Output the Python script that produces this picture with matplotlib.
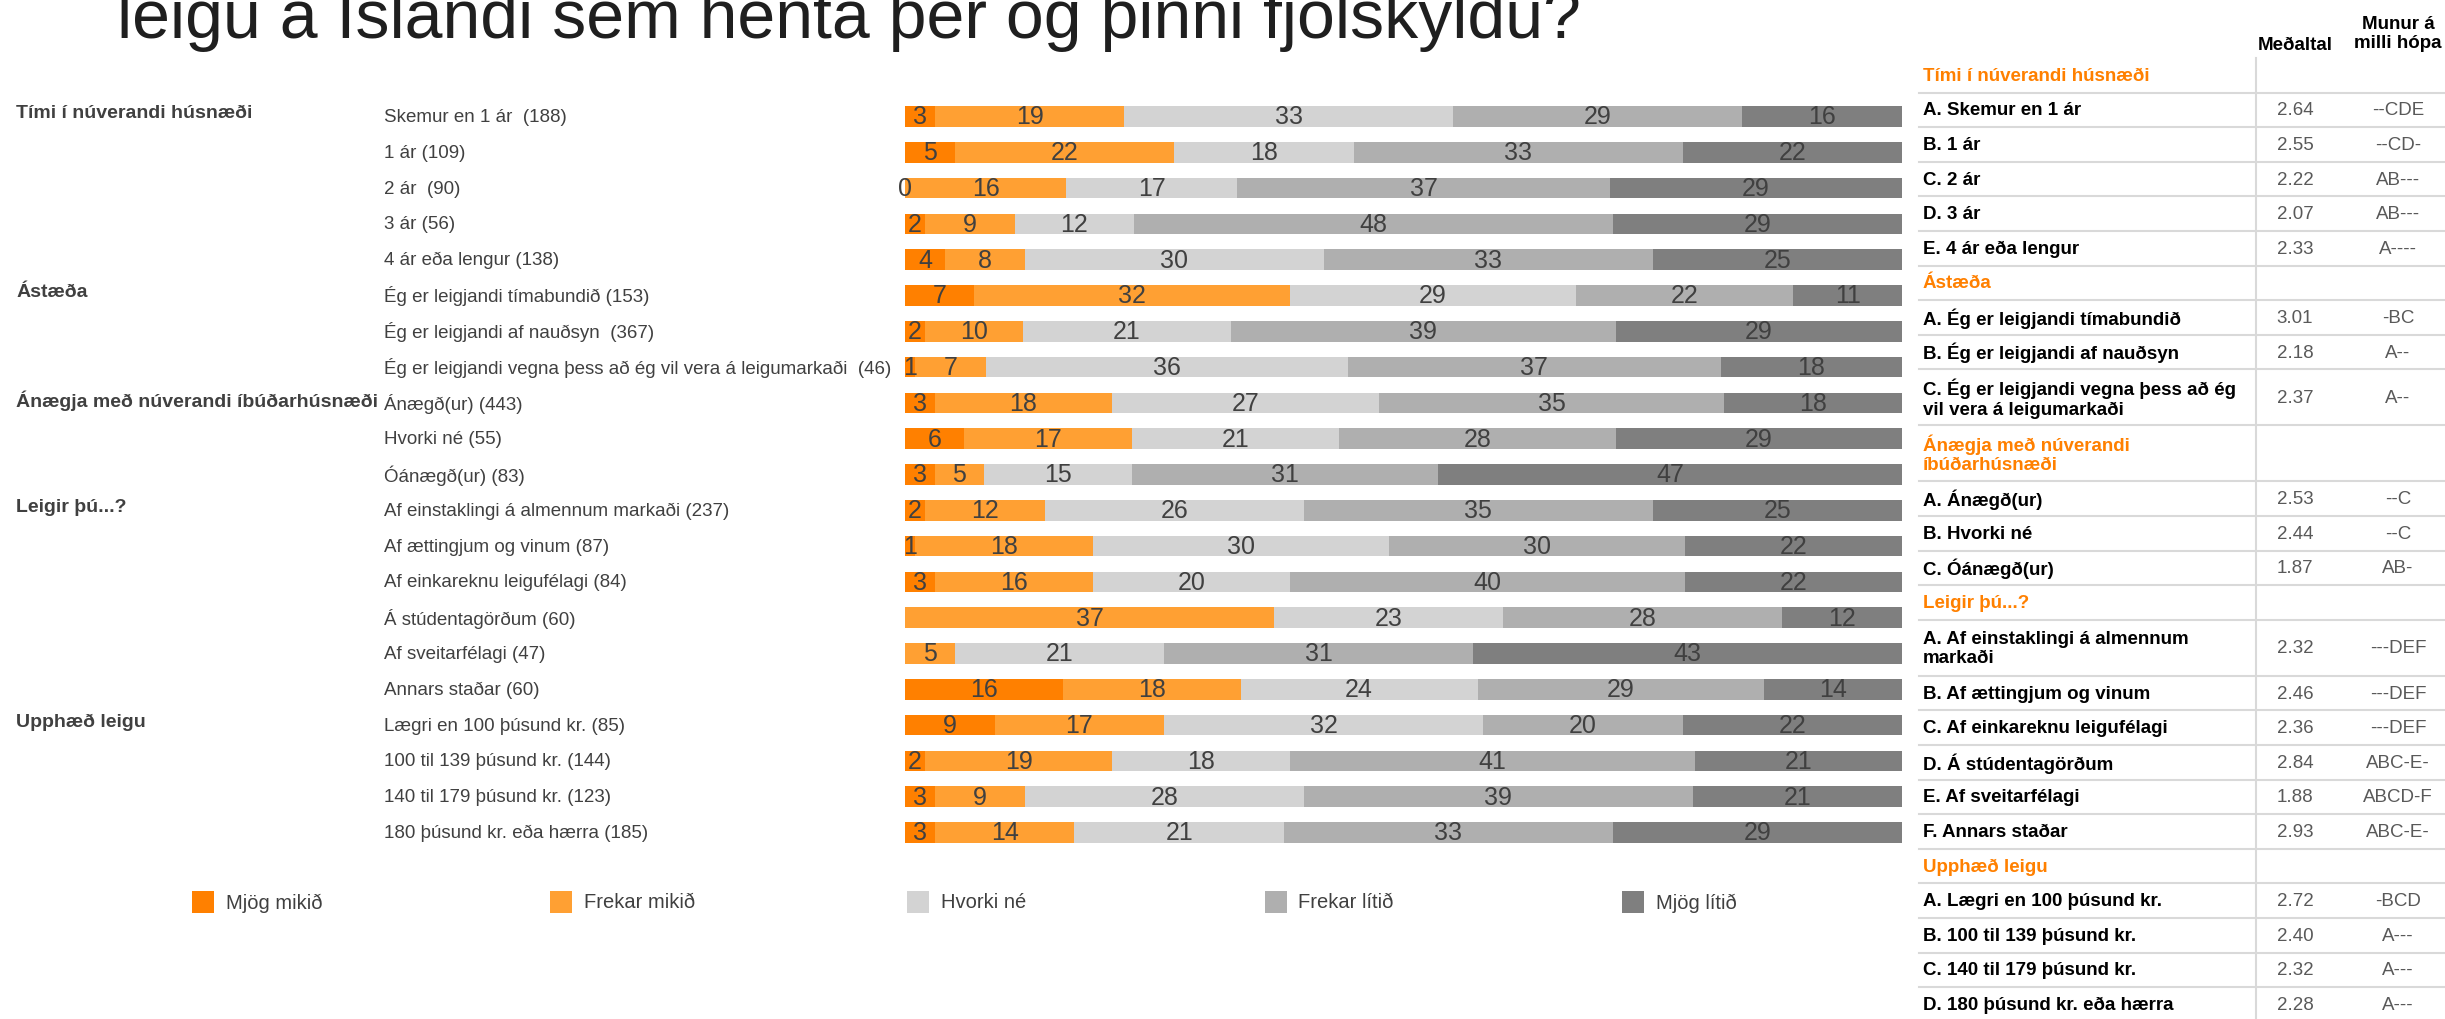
import matplotlib
matplotlib.use("Agg")
import matplotlib.pyplot as plt
from matplotlib import font_manager
from matplotlib.patches import Rectangle
from matplotlib.transforms import blended_transform_factory
import numpy as np

W, H = 2445, 1020

_installed = {f.name for f in font_manager.fontManager.ttflist}


def _pick(*names):
    for n in names:
        if n in _installed:
            return n
    return "DejaVu Sans"


NARROW = _pick("Liberation Sans Narrow", "Arial Narrow", "Liberation Sans")
SANS = _pick("Liberation Sans", "Arial", "DejaVu Sans")

# ---- data -------------------------------------------------------------
title = "leigu á Íslandi sem henta þér og þinni fjölskyldu?"

series = ["Mjög mikið", "Frekar mikið", "Hvorki né", "Frekar lítið", "Mjög lítið"]
colors = ["#FF8000", "#FFA033", "#D3D3D3", "#AFAFAF", "#7F7F7F"]

groups = ["Tími í núverandi húsnæði", "Ástæða", "Ánægja með núverandi íbúðarhúsnæði",
          "Leigir þú...?", "Upphæð leigu"]
group_sizes = [5, 3, 3, 6, 4]

row_labels = [
    "Skemur en 1 ár  (188)", "1 ár (109)", "2 ár  (90)", "3 ár (56)", "4 ár eða lengur (138)",
    "Ég er leigjandi tímabundið (153)", "Ég er leigjandi af nauðsyn  (367)",
    "Ég er leigjandi vegna þess að ég vil vera á leigumarkaði  (46)",
    "Ánægð(ur) (443)", "Hvorki né (55)", "Óánægð(ur) (83)",
    "Af einstaklingi á almennum markaði (237)", "Af ættingjum og vinum (87)",
    "Af einkareknu leigufélagi (84)", "Á stúdentagörðum (60)", "Af sveitarfélagi (47)",
    "Annars staðar (60)",
    "Lægri en 100 þúsund kr. (85)", "100 til 139 þúsund kr. (144)",
    "140 til 179 þúsund kr. (123)", "180 þúsund kr. eða hærra (185)",
]

mjog_mikid = [3, 5, 0, 2, 4, 7, 2, 1, 3, 6, 3, 2, 1, 3, np.nan, np.nan, 16, 9, 2, 3, 3]
frekar_mikid = [19, 22, 16, 9, 8, 32, 10, 7, 18, 17, 5, 12, 18, 16, 37, 5, 18, 17, 19, 9, 14]
hvorki_ne = [33, 18, 17, 12, 30, 29, 21, 36, 27, 21, 15, 26, 30, 20, 23, 21, 24, 32, 18, 28, 21]
frekar_litid = [29, 33, 37, 48, 33, 22, 39, 37, 35, 28, 31, 35, 30, 40, 28, 31, 29, 20, 41, 39, 33]
mjog_litid = [16, 22, 29, 29, 25, 11, 29, 18, 18, 29, 47, 25, 22, 22, 12, 43, 14, 22, 21, 21, 29]

tbl_sections = ["Tími í núverandi húsnæði", "Ástæða", "Ánægja með núverandi\níbúðarhúsnæði",
                "Leigir þú...?", "Upphæð leigu"]
tbl_items = [
    "A. Skemur en 1 ár", "B. 1 ár", "C. 2 ár", "D. 3 ár", "E. 4 ár eða lengur",
    "A. Ég er leigjandi tímabundið", "B. Ég er leigjandi af nauðsyn",
    "C. Ég er leigjandi vegna þess að ég\nvil vera á leigumarkaði",
    "A. Ánægð(ur)", "B. Hvorki né", "C. Óánægð(ur)",
    "A. Af einstaklingi á almennum\nmarkaði", "B. Af ættingjum og vinum",
    "C. Af einkareknu leigufélagi", "D. Á stúdentagörðum", "E. Af sveitarfélagi",
    "F. Annars staðar",
    "A. Lægri en 100 þúsund kr.", "B. 100 til 139 þúsund kr.", "C. 140 til 179 þúsund kr.",
    "D. 180 þúsund kr. eða hærra",
]
tbl_means = [2.64, 2.55, 2.22, 2.07, 2.33, 3.01, 2.18, 2.37, 2.53, 2.44, 1.87,
             2.32, 2.46, 2.36, 2.84, 1.88, 2.93, 2.72, 2.40, 2.32, 2.28]
tbl_diffs = ["--CDE", "--CD-", "AB---", "AB---", "A----", "-BC", "A--", "A--",
             "--C", "--C", "AB-", "---DEF", "---DEF", "---DEF", "ABC-E-", "ABCD-F", "ABC-E-",
             "-BCD", "A---", "A---", "A---"]

# ---- figure -----------------------------------------------------------
fig = plt.figure(figsize=(W / 100, H / 100), dpi=100)
fig.patch.set_facecolor("white")

TXT = "#404040"
ROW0, STEP = 117.5, 35.8
nrows = len(row_labels)
top = ROW0 - STEP / 2
bot = ROW0 + STEP * (nrows - 0.5)
x0, x1 = 905, 1902
ax = fig.add_axes([x0 / W, 1 - bot / H, (x1 - x0) / W, (bot - top) / H])

vals = np.array([mjog_mikid, frekar_mikid, hvorki_ne, frekar_litid, mjog_litid], dtype=float).T
filled = np.nan_to_num(vals)
pct = filled / filled.sum(axis=1, keepdims=True) * 100
y = np.arange(nrows)
left = np.zeros(nrows)
for k in range(len(series)):
    ax.barh(y, pct[:, k], left=left, height=0.57, color=colors[k], edgecolor="none")
    for i in range(nrows):
        if not np.isnan(vals[i, k]):
            ax.text(left[i] + pct[i, k] / 2, i, f"{vals[i, k]:g}", ha="center", va="center",
                    fontsize=18, family=NARROW, color=TXT)
    left += pct[:, k]
ax.set_xlim(0, 100)
ax.set_ylim(nrows - 0.5, -0.5)
ax.axis("off")

# row + group labels, tied to the bar rows
tr = blended_transform_factory(fig.transFigure, ax.transData)
for i, lab in enumerate(row_labels):
    ax.text(384 / W, i, lab, transform=tr, ha="left", va="center", fontsize=13.5,
            family=NARROW, color=TXT, clip_on=False)
start = 0
for g, n in zip(groups, group_sizes):
    ax.text(16 / W, start - 0.1, g, transform=tr, ha="left", va="center", fontsize=14,
            family=NARROW, fontweight="bold", color=TXT, clip_on=False)
    start += n

# overlay in pixel coordinates: title, legend, table
ov = fig.add_axes([0, 0, 1, 1], zorder=-1)
ov.set_xlim(0, W)
ov.set_ylim(H, 0)
ov.axis("off")

ov.text(117, 38, title, fontsize=49, family=NARROW, color="#1F1F1F", va="baseline")

for k, name in enumerate(series):
    lx = 192 + 357.5 * k
    ov.add_patch(Rectangle((lx, 892), 22, 22, color=colors[k], lw=0))
    ov.text(lx + 34, 903, name, fontsize=14.5, family=NARROW, color=TXT, va="center")

# table
TL, TR, VX = 1919, W, 2256
MX, DX = 2295, 2398
SINGLE, DOUBLE = 34.6, 56.0
LINE = "#D9D9D9"
FS = 13.5
ov.text(MX, 45, "Meðaltal", ha="center", va="center", fontsize=FS, family=SANS,
        fontweight="bold", color="black")
ov.text(DX, 34, "Munur á\nmilli hópa", ha="center", va="center", fontsize=FS, family=SANS,
        fontweight="bold", color="black", linespacing=1.2)

ty = 59
ov.plot([VX, VX], [ty, H + 10], color=LINE, lw=1.5)
idx = 0
for sec, n in zip(tbl_sections, group_sizes):
    h = DOUBLE if "\n" in sec else SINGLE
    ov.text(TL + 4, ty + h / 2, sec, ha="left", va="center", fontsize=FS, family=SANS,
            fontweight="bold", color="#FF8000", linespacing=1.2)
    ty += h
    ov.plot([TL, TR], [ty, ty], color=LINE, lw=1.5)
    for j in range(idx, idx + n):
        h = DOUBLE if "\n" in tbl_items[j] else SINGLE
        cy = ty + h / 2
        ov.text(TL + 4, cy, tbl_items[j], ha="left", va="center", fontsize=FS, family=SANS,
                fontweight="bold", color="black", linespacing=1.2)
        ov.text(MX, cy, f"{tbl_means[j]:.2f}", ha="center", va="center", fontsize=FS,
                family=SANS, color="#595959")
        ov.text(DX, cy, tbl_diffs[j], ha="center", va="center", fontsize=FS,
                family=SANS, color="#595959")
        ty += h
        ov.plot([TL, TR], [ty, ty], color=LINE, lw=1.5)
    idx += n

fig.savefig("out.png", dpi=100)
